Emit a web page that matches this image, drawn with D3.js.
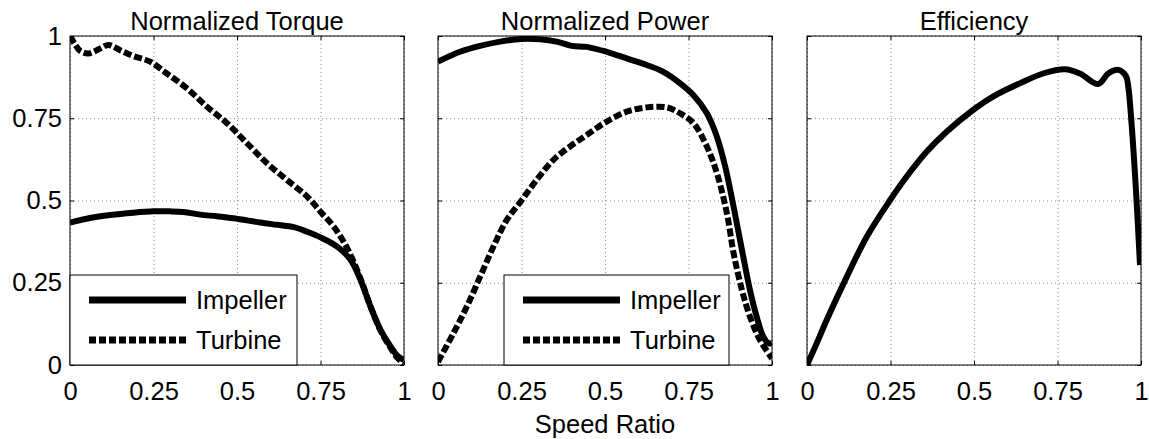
<!DOCTYPE html>
<html lang="en">
<head>
    <meta charset="UTF-8">
    <title>Torque Converter Characteristics</title>
    <script src="https://d3js.org/d3.v7.min.js"></script>
    <style>
        body {
            margin: 0;
            padding: 0;
            background-color: #fff;
            overflow: hidden;
        }

        svg {
            display: block;
            font-family: "Liberation Sans", Arial, Helvetica, sans-serif;
        }

        text {
            fill: #000;
            font-size: 25.5px;
        }

        .grid line {
            stroke: #888;
            stroke-width: 1px;
            stroke-dasharray: 1,3;
        }

        .frame {
            fill: none;
            stroke: #000;
            stroke-width: 1px;
        }
    </style>
</head>
<body>
    <script>
        // Speed ratio ticks and labels
        const xTicks = [0, 0.25, 0.5, 0.75, 1];
        const yTicks = [0, 0.25, 0.5, 0.75, 1];
        const tickLabels = ["0", "0.25", "0.5", "0.75", "1"];

        const titles = ["Normalized Torque", "Normalized Power", "Efficiency"];
        const seriesNames = ["Impeller", "Turbine"];

        // Normalized torque
        const torqueImpellerX = [0, 0.06, 0.12, 0.19, 0.25, 0.3, 0.34, 0.39, 0.44, 0.49, 0.57, 0.62, 0.67, 0.71, 0.75, 0.8, 0.84, 0.87, 0.9, 0.93, 0.96, 0.98, 1];
        const torqueImpellerY = [0.433, 0.447, 0.456, 0.463, 0.467, 0.467, 0.465, 0.457, 0.452, 0.446, 0.433, 0.426, 0.419, 0.405, 0.388, 0.36, 0.32, 0.258, 0.177, 0.106, 0.056, 0.028, 0.015];
        const torqueTurbineX = [0, 0.015, 0.03, 0.055, 0.09, 0.115, 0.15, 0.19, 0.24, 0.29, 0.35, 0.41, 0.47, 0.53, 0.59, 0.65, 0.71, 0.75, 0.79, 0.83, 0.87, 0.9, 0.93, 0.96, 0.98, 1];
        const torqueTurbineY = [1.0, 0.975, 0.955, 0.947, 0.962, 0.973, 0.957, 0.939, 0.922, 0.886, 0.841, 0.785, 0.735, 0.674, 0.613, 0.562, 0.512, 0.466, 0.42, 0.355, 0.262, 0.177, 0.104, 0.052, 0.022, 0.005];

        // Normalized power
        const powerImpellerX = [0, 0.066, 0.126, 0.186, 0.25, 0.305, 0.355, 0.4, 0.445, 0.505, 0.565, 0.625, 0.675, 0.725, 0.765, 0.805, 0.835, 0.86, 0.885, 0.91, 0.934, 0.954, 0.974, 0.99, 1];
        const powerImpellerY = [0.922, 0.952, 0.97, 0.983, 0.991, 0.99, 0.983, 0.97, 0.967, 0.952, 0.932, 0.912, 0.891, 0.856, 0.82, 0.765, 0.694, 0.603, 0.481, 0.35, 0.228, 0.147, 0.086, 0.066, 0.066];
        const powerTurbineX = [0, 0.046, 0.086, 0.126, 0.166, 0.206, 0.25, 0.295, 0.345, 0.395, 0.445, 0.505, 0.565, 0.625, 0.685, 0.725, 0.765, 0.805, 0.835, 0.865, 0.885, 0.91, 0.934, 0.964, 1];
        const powerTurbineY = [0.01, 0.096, 0.177, 0.268, 0.36, 0.441, 0.5, 0.562, 0.623, 0.664, 0.699, 0.74, 0.77, 0.783, 0.783, 0.765, 0.735, 0.664, 0.583, 0.461, 0.34, 0.228, 0.147, 0.076, 0.02];

        // Efficiency
        const effX = [0, 0.03, 0.059, 0.119, 0.179, 0.248, 0.298, 0.358, 0.418, 0.497, 0.557, 0.637, 0.707, 0.772, 0.817, 0.872, 0.902, 0.932, 0.955, 0.962, 0.972, 0.985, 0.997];
        const effY = [0, 0.068, 0.137, 0.268, 0.39, 0.5, 0.572, 0.648, 0.709, 0.775, 0.816, 0.856, 0.886, 0.899, 0.886, 0.854, 0.886, 0.897, 0.878, 0.845, 0.73, 0.53, 0.304];

        const zip = (xs, ys) => xs.map((x, i) => ({ x: x, y: ys[i] }));

        const panels = [
            { title: titles[0], lines: [zip(torqueImpellerX, torqueImpellerY), zip(torqueTurbineX, torqueTurbineY)], legendX: 0 },
            { title: titles[1], lines: [zip(powerImpellerX, powerImpellerY), zip(powerTurbineX, powerTurbineY)], legendX: 66 },
            { title: titles[2], lines: [zip(effX, effY)], legendX: null }
        ];

        const width = 1149;
        const height = 439;
        const lefts = [70, 438, 807];
        const plotTop = 36;
        const pw = 334;
        const ph = 329;

        const svg = d3.select("body").append("svg")
            .attr("width", width)
            .attr("height", height);

        const x = d3.scaleLinear().domain([0, 1]).range([0, pw]);
        const y = d3.scaleLinear().domain([0, 1]).range([ph, 0]);

        const line = d3.line()
            .x(d => x(d.x))
            .y(d => y(d.y))
            .curve(d3.curveCatmullRom.alpha(0.5));

        const lineStyles = [
            { dash: null },
            { dash: "8,3" }
        ];

        panels.forEach((p, i) => {
            const g = svg.append("g")
                .attr("transform", `translate(${lefts[i]},${plotTop})`);

            g.append("defs").append("clipPath")
                .attr("id", "clip" + i)
                .append("rect")
                .attr("width", pw)
                .attr("height", ph);

            // Grid
            g.append("g")
                .attr("class", "grid")
                .attr("transform", `translate(0,${ph})`)
                .call(d3.axisBottom(x).tickValues(xTicks).tickSize(-ph).tickFormat(""))
                .call(a => a.select(".domain").remove());
            g.append("g")
                .attr("class", "grid")
                .call(d3.axisLeft(y).tickValues(yTicks).tickSize(-pw).tickFormat(""))
                .call(a => a.select(".domain").remove());

            // Curves
            p.lines.forEach((data, k) => {
                g.append("path")
                    .datum(data)
                    .attr("clip-path", `url(#clip${i})`)
                    .attr("fill", "none")
                    .attr("stroke", "#000")
                    .attr("stroke-width", 6)
                    .attr("stroke-linejoin", "round")
                    .attr("stroke-dasharray", lineStyles[k].dash)
                    .attr("d", line);
            });

            // Inner ticks on all four sides
            const tickAxes = [
                [d3.axisBottom(x).tickValues(xTicks), `translate(0,${ph})`],
                [d3.axisTop(x).tickValues(xTicks), "translate(0,0)"],
                [d3.axisLeft(y).tickValues(yTicks), "translate(0,0)"],
                [d3.axisRight(y).tickValues(yTicks), `translate(${pw},0)`]
            ];
            tickAxes.forEach(([ax, tr]) => {
                g.append("g")
                    .attr("transform", tr)
                    .call(ax.tickSize(-4).tickFormat(""))
                    .call(a => a.select(".domain").remove())
                    .selectAll("line").attr("stroke", "#000");
            });

            // Tick labels
            g.append("g")
                .attr("transform", `translate(0,${ph})`)
                .call(d3.axisBottom(x).tickValues(xTicks).tickSize(0).tickPadding(17)
                    .tickFormat((d, j) => tickLabels[j]))
                .call(a => a.select(".domain").remove())
                .selectAll("text")
                .attr("font-size", 25.5)
                .attr("font-family", null);

            if (i === 0) {
                g.append("g")
                    .call(d3.axisLeft(y).tickValues(yTicks).tickSize(0).tickPadding(8)
                        .tickFormat((d, j) => tickLabels[j]))
                    .call(a => a.select(".domain").remove())
                    .selectAll("text")
                    .attr("font-size", 25.5)
                    .attr("font-family", null);
            }

            // Frame
            g.append("rect")
                .attr("class", "frame")
                .attr("width", pw)
                .attr("height", ph);

            // Title
            g.append("text")
                .attr("x", pw / 2)
                .attr("y", -6)
                .attr("text-anchor", "middle")
                .text(p.title);

            // Legend
            if (p.legendX !== null) {
                const lg = g.append("g")
                    .attr("transform", `translate(${p.legendX},${ph - 90})`);
                lg.append("rect")
                    .attr("width", i === 0 ? 227 : 225)
                    .attr("height", 90)
                    .attr("fill", "#fff")
                    .attr("stroke", "#000")
                    .attr("stroke-width", 1);
                seriesNames.forEach((name, k) => {
                    const ly = 25 + k * 40;
                    lg.append("line")
                        .attr("x1", 19)
                        .attr("x2", 116)
                        .attr("y1", ly)
                        .attr("y2", ly)
                        .attr("stroke", "#000")
                        .attr("stroke-width", 7)
                        .attr("stroke-dasharray", k === 1 ? "7,3" : null);
                    lg.append("text")
                        .attr("x", 126)
                        .attr("y", ly)
                        .attr("dy", "0.35em")
                        .text(name);
                });
            }
        });

        // Shared x-axis label
        svg.append("text")
            .attr("x", lefts[1] + pw / 2)
            .attr("y", 433)
            .attr("text-anchor", "middle")
            .text("Speed Ratio");
    </script>
</body>
</html>
